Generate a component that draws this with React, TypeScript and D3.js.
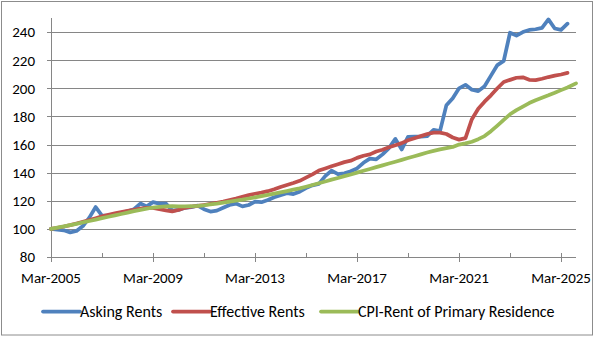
import React from 'react';
import * as d3 from 'd3';

// Quarterly categories Mar-2005 .. Jun-2025
const quarterDates: Date[] = d3.timeMonth.range(new Date(2005, 2, 1), new Date(2025, 6, 1), 3);
const cpiLastDate = new Date(2025, 9, 1);

const askingRents = [
  100, 99.5, 99.0, 97.5, 98.5, 102, 108, 115.5, 109.5, 109.5,
  110.5, 111.5, 112.5, 114, 118, 116, 119, 118, 118, 113,
  113.5, 115, 115.5, 116.5, 114, 112.3, 113, 115, 117, 118,
  116, 117, 119.4, 119, 120.5, 122.5, 124, 125.4, 124.8, 126.5,
  129, 131, 132, 137.5, 141.5, 139, 139.5, 141, 143, 147,
  150, 149.5, 153, 157.5, 164, 156.5, 165.5, 165.7, 165.7, 166,
  170.5, 169.5, 188, 193, 200, 202.5, 199, 198, 201.5, 209,
  216.5, 219.5, 239.5, 237.5, 240, 241.5, 242, 243, 249, 242.5,
  241.5, 246,
];

const effectiveRents = [
  100, 100.8, 101.7, 102.7, 103.8, 105, 106.3, 107.6, 108.9, 110.0,
  111.0, 112.0, 112.8, 113.6, 114.4, 115.0, 115.0, 114.0, 113.2, 112.4,
  113.5, 115, 115.8, 116.3, 117, 117.8, 118.6, 119.4, 120.4, 121.5,
  122.8, 124.0, 125.0, 125.8, 126.8, 128.2, 129.8, 131.2, 132.6, 134.2,
  136.5, 138.8, 141.5, 143.0, 144.5, 146.0, 147.5, 148.5, 150.5, 152,
  153, 155, 156.3, 158, 159.5, 161, 163, 164.5, 166, 167.5,
  168.5, 168.5, 167.5, 165, 163.5, 164.5, 178, 185.5, 190.5, 195,
  200, 204.5, 206, 207.5, 207.8, 206, 205.8, 206.8, 208, 209,
  209.8, 211,
];

const cpiRent = [
  100, 100.9, 101.8, 102.7, 103.6, 104.6, 105.6, 106.6, 107.6, 108.6,
  109.6, 110.6, 111.6, 112.6, 113.5, 114.4, 115.2, 115.7, 116.0, 116.1,
  116.0, 116.0, 116.1, 116.4, 116.8, 117.4, 118.0, 118.7, 119.4, 120.1,
  120.8, 121.6, 122.4, 123.3, 124.2, 125.1, 126.0, 126.9, 127.9, 128.8,
  130.0, 131.2, 132.5, 133.7, 135.0, 136.2, 137.5, 138.7, 140.0, 141.3,
  142.6, 143.9, 145.2, 146.5, 147.8, 149.1, 150.4, 151.7, 153.0, 154.3,
  155.5, 156.6, 157.5, 158.3, 160.0, 160.8, 162.0, 163.8, 166.0, 169.5,
  173.5, 177.5, 181.5, 184.5, 187.0, 189.5, 191.5, 193.3, 195.0, 196.8,
  198.7, 200.6, 203.5,
];
const cpiDates: Date[] = [...quarterDates, cpiLastDate];

const yTicks = [80, 100, 120, 140, 160, 180, 200, 220, 240];
const majorTickYears = [2005, 2009, 2013, 2017, 2021, 2025];
const minorTickYears = [2007, 2011, 2015, 2019, 2023];

const seriesNames = ['Asking Rents', 'Effective Rents', 'CPI-Rent of Primary Residence'];
const seriesColors = ['#4F81BD', '#C0504D', '#9BBB59'];

const W = 595;
const H = 337;
const plotLeft = 51;
const plotRight = 576;
const plotTop = 18;
const plotBottom = 257;
const FONT = "Carlito, Calibri, Lato, 'Open Sans', sans-serif";
const GRID = '#868686';

export default function App() {
  const x = d3.scaleTime()
    .domain([new Date(2005, 2, 1), cpiLastDate])
    .range([plotLeft, plotRight]);
  const y = d3.scaleLinear().domain([80, 250]).range([plotBottom, plotTop]);

  const line = d3.line<[Date, number]>()
    .x((d) => x(d[0]))
    .y((d) => y(d[1]));

  const series: [Date, number][][] = [
    askingRents.map((v, i) => [quarterDates[i], v] as [Date, number]),
    effectiveRents.map((v, i) => [quarterDates[i], v] as [Date, number]),
    cpiRent.map((v, i) => [cpiDates[i], v] as [Date, number]),
  ];

  const fmt = d3.timeFormat('%b-%Y');
  const legendStarts = [43, 173, 321];
  const legendLineLen = 37;
  const legendY = 311.5;

  return (
    <svg width={W} height={H} style={{ position: 'absolute', left: 0, top: 0, background: '#fff' }}
      fontFamily={FONT}>
      <rect x={1.5} y={1.5} width={591} height={333.5} fill="#fff" stroke="#8c8c8c" strokeWidth={1} />
      {yTicks.filter((t) => t !== 80).map((t) => (
        <line key={'g' + t} x1={plotLeft} x2={plotRight} y1={Math.round(y(t)) + 0.5} y2={Math.round(y(t)) + 0.5}
          stroke={GRID} strokeWidth={1} />
      ))}
      <line x1={plotLeft + 0.5} x2={plotLeft + 0.5} y1={plotTop} y2={plotBottom + 5} stroke={GRID} strokeWidth={1} />
      {yTicks.map((t) => (
        <g key={'yt' + t}>
          <line x1={plotLeft - 4} x2={plotLeft} y1={Math.round(y(t)) + 0.5} y2={Math.round(y(t)) + 0.5}
            stroke={GRID} strokeWidth={1} />
          <text x={35} y={y(t)} dy="0.36em" textAnchor="end" fontSize={15} fill="#000">{t}</text>
        </g>
      ))}
      <line x1={plotLeft} x2={plotRight} y1={Math.round(y(80)) + 0.5} y2={Math.round(y(80)) + 0.5}
        stroke={GRID} strokeWidth={1} />
      {majorTickYears.map((yr) => {
        const d = new Date(yr, 2, 1);
        const xx = Math.round(x(d)) + 0.5;
        return (
          <g key={'mx' + yr}>
            <line x1={xx} x2={xx} y1={plotBottom - 4} y2={plotBottom + 5} stroke={GRID} strokeWidth={1} />
            <text x={x(d)} y={283} textAnchor="middle" fontSize={15} fill="#000">{fmt(d)}</text>
          </g>
        );
      })}
      {minorTickYears.map((yr) => {
        const xx = Math.round(x(new Date(yr, 2, 1))) + 0.5;
        return <line key={'mn' + yr} x1={xx} x2={xx} y1={plotBottom - 4} y2={plotBottom} stroke={GRID} strokeWidth={1} />;
      })}
      {series.map((s, i) => (
        <path key={'s' + i} d={line(s) || ''} fill="none" stroke={seriesColors[i]} strokeWidth={3.75}
          strokeLinejoin="round" strokeLinecap="round" />
      ))}
      {seriesNames.map((n, i) => (
        <g key={'lg' + i}>
          <line x1={legendStarts[i]} x2={legendStarts[i] + legendLineLen} y1={legendY} y2={legendY}
            stroke={seriesColors[i]} strokeWidth={3.75} strokeLinecap="round" />
          <text x={legendStarts[i] + legendLineLen} y={316.5} fontSize={16} fill="#000">{n}</text>
        </g>
      ))}
    </svg>
  );
}
